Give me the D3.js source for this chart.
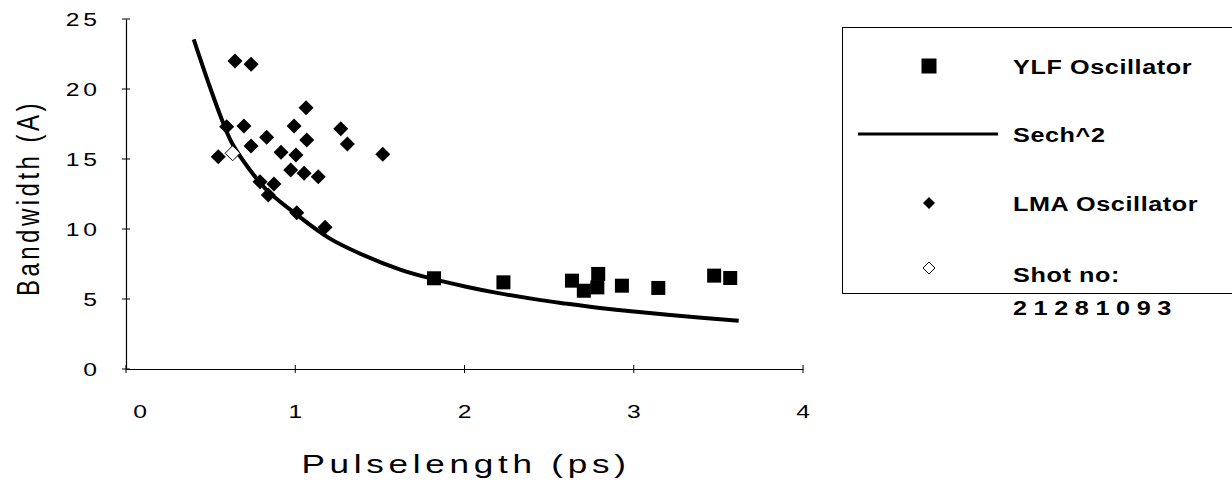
<!DOCTYPE html>
<html>
<head>
<meta charset="utf-8">
<script src="https://cdn.jsdelivr.net/npm/d3@7"></script>
<style>
  html, body { margin: 0; padding: 0; background: #fff; }
  svg { display: block; }
  text { font-family: "Liberation Sans", Arial, Helvetica, sans-serif; fill: #000; }
</style>
</head>
<body>
<svg id="chart" width="1232" height="488"></svg>
<script>
// ---- data ----
const ylfX = [1.82, 2.23, 2.635, 2.705, 2.79, 2.785, 2.93, 3.145, 3.475, 3.57];
const ylfY = [6.48, 6.19, 6.31, 5.59, 6.79, 5.83, 5.95, 5.79, 6.67, 6.50];

const lmaX = [0.644, 0.739, 1.064, 0.595, 0.697, 0.993, 1.269, 1.068, 1.308, 0.831, 0.739, 1.517,
              0.916, 1.004, 0.545, 0.973, 1.052, 1.136, 0.792, 0.874, 0.841, 1.009, 1.176];
const lmaY = [22.0, 21.76, 18.66, 17.31, 17.36, 17.36, 17.16, 16.36, 16.07, 16.55, 15.93, 15.34,
              15.48, 15.29, 15.16, 14.21, 13.98, 13.74, 13.38, 13.21, 12.43, 11.16, 10.12];

const shotX = [0.630];
const shotY = [15.41];

const sechX = [0.40, 0.50, 0.57, 0.63, 0.73, 0.83, 0.99, 1.20, 1.40, 1.62, 1.80, 2.01, 2.20, 2.45, 2.60, 2.80, 3.00, 3.20, 3.40, 3.62];
const sechY = [23.55, 20.0, 17.7, 16.05, 14.25, 12.8, 11.2, 9.35, 8.15, 7.1, 6.47, 5.88, 5.42, 4.92, 4.67, 4.36, 4.1, 3.88, 3.66, 3.45];

const xTicks = [0, 1, 2, 3, 4];
const yTicks = [0, 5, 10, 15, 20, 25];

const legendLabels = ["YLF Oscillator", "Sech^2", "LMA Oscillator", "Shot no:"];
const legendExtra = "21281093";

// ---- drawing ----
const svg = d3.select("#chart");
const x = d3.scaleLinear().domain([0, 4]).range([126, 803]);
const y = d3.scaleLinear().domain([0, 25]).range([369, 19]);
const SX = 1.3; // horizontal stretch of the scanned text

// axes
const gx = svg.append("g").attr("transform", `translate(0,${y(0)})`)
  .call(d3.axisBottom(x).tickValues(xTicks).tickSize(0).tickFormat(""));
gx.select(".domain").attr("stroke", "#000").attr("stroke-width", 1.2);
const gy = svg.append("g").attr("transform", `translate(${x(0)},0)`)
  .call(d3.axisLeft(y).tickValues(yTicks).tickSize(0).tickFormat(""));
gy.select(".domain").attr("stroke", "#000").attr("stroke-width", 1.2);

// crossing ticks
svg.append("g").selectAll("line").data(xTicks).join("line")
  .attr("x1", d => x(d)).attr("x2", d => x(d))
  .attr("y1", y(0) - 4).attr("y2", y(0) + 4)
  .attr("stroke", "#000").attr("stroke-width", 1);
svg.append("g").selectAll("line").data(yTicks).join("line")
  .attr("x1", x(0) - 4).attr("x2", x(0) + 4)
  .attr("y1", d => y(d)).attr("y2", d => y(d))
  .attr("stroke", "#000").attr("stroke-width", 1);

// tick labels
svg.append("g").selectAll("text").data(xTicks).join("text")
  .attr("transform", d => `translate(${x(d) + (d === 0 ? 14 : 0)},418) scale(${SX},1)`)
  .attr("text-anchor", "middle")
  .style("font-size", "19px")
  .text(d => d);
svg.append("g").selectAll("text").data(yTicks).join("text")
  .attr("transform", d => `translate(101,${y(d) + 7}) scale(${SX},1)`)
  .attr("text-anchor", "end")
  .style("font-size", "19px").style("letter-spacing", "3px")
  .text(d => d);

// axis titles
svg.append("text")
  .attr("transform", `translate(466,473) scale(1.35,1)`)
  .attr("text-anchor", "middle")
  .style("font-size", "26px").style("letter-spacing", "3.5px")
  .text("Pulselength (ps)");
svg.append("text")
  .attr("transform", `translate(39,198) scale(${SX},1) rotate(-90)`)
  .attr("text-anchor", "middle")
  .style("font-size", "24px").style("letter-spacing", "3.5px")
  .text("Bandwidth (A)");

// sech^2 curve
const line = d3.line().x(d => x(d[0])).y(d => y(d[1])).curve(d3.curveCatmullRom);
svg.append("path")
  .datum(d3.zip(sechX, sechY))
  .attr("d", line)
  .attr("fill", "none").attr("stroke", "#000").attr("stroke-width", 4);

// markers
const diamond = (cx, cy, r) => `M${cx},${cy - r}L${cx + r},${cy}L${cx},${cy + r}L${cx - r},${cy}Z`;

svg.append("g").selectAll("path").data(d3.zip(lmaX, lmaY)).join("path")
  .attr("d", d => diamond(x(d[0]), y(d[1]), 7.5))
  .attr("fill", "#000");

svg.append("g").selectAll("rect").data(d3.zip(ylfX, ylfY)).join("rect")
  .attr("x", d => x(d[0]) - 7).attr("y", d => y(d[1]) - 7)
  .attr("width", 14).attr("height", 14)
  .attr("fill", "#000");

svg.append("g").selectAll("path").data(d3.zip(shotX, shotY)).join("path")
  .attr("d", d => diamond(x(d[0]), y(d[1]), 7.5))
  .attr("fill", "#fff").attr("stroke", "#000").attr("stroke-width", 1);

// legend
const lg = svg.append("g");
lg.append("rect").attr("x", 842.5).attr("y", 27.5).attr("width", 400).attr("height", 266)
  .attr("fill", "none").attr("stroke", "#000").attr("stroke-width", 1);
const rowY = [66, 134, 203, 268];
const mx = 929;
lg.append("rect").attr("x", mx - 7.5).attr("y", rowY[0] - 7.5).attr("width", 15).attr("height", 15).attr("fill", "#000");
lg.append("line").attr("x1", 858).attr("x2", 998).attr("y1", rowY[1]).attr("y2", rowY[1])
  .attr("stroke", "#000").attr("stroke-width", 3);
lg.append("path").attr("d", diamond(mx, rowY[2], 6)).attr("fill", "#000");
lg.append("path").attr("d", diamond(mx, rowY[3], 6)).attr("fill", "#fff").attr("stroke", "#000").attr("stroke-width", 1);
lg.selectAll("text.lab").data(legendLabels).join("text").attr("class", "lab")
  .attr("transform", (d, i) => `translate(1013,${rowY[i] + 8 + (i === 3 ? 6 : 0)}) scale(1.2,1)`)
  .style("font-size", "21px").style("font-weight", "bold").style("letter-spacing", "0.5px")
  .text(d => d);
lg.append("text")
  .attr("transform", `translate(1013,315) scale(1.2,1)`)
  .style("font-size", "21px").style("font-weight", "bold").style("letter-spacing", "5.5px")
  .text(legendExtra);
</script>
</body>
</html>
